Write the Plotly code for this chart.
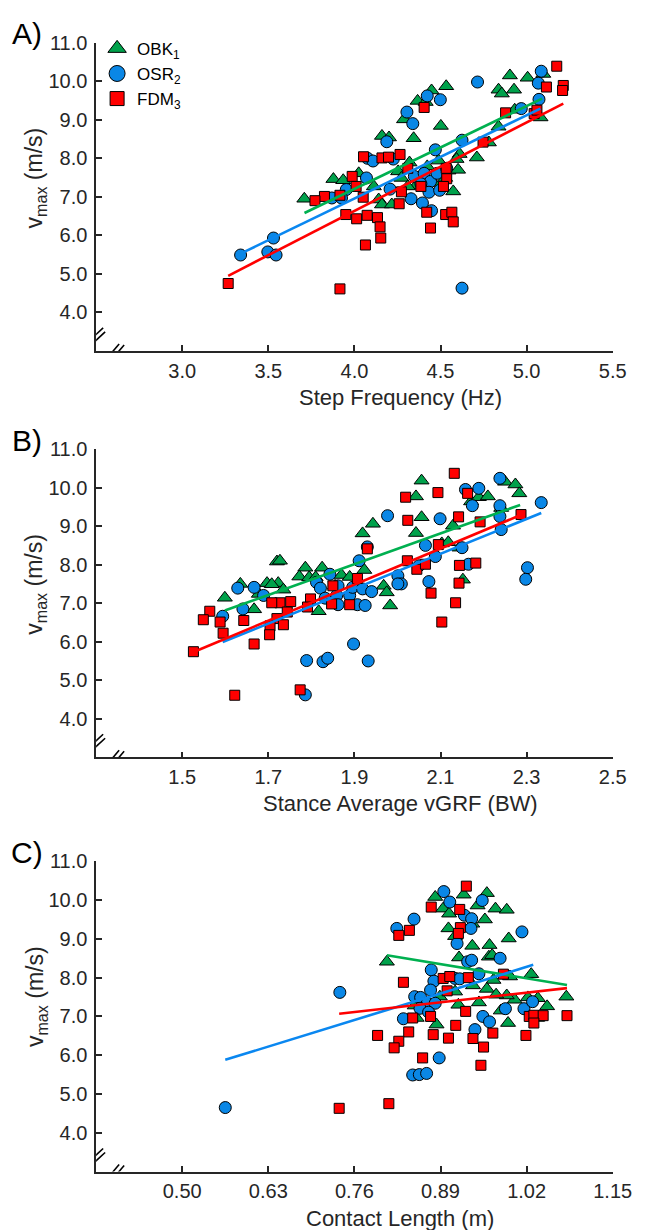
import plotly.graph_objects as go

# ---------------- data ----------------
# Panel A: Step Frequency (Hz) vs vmax (m/s)
A_OBK_x = [4.903, 5.006, 5.097, 4.533, 4.448, 4.837, 4.856, 4.927, 4.367, 4.414, 4.288, 4.502, 4.16, 4.201,
           4.344, 4.931, 5.081, 4.837, 4.781, 4.711, 4.611, 4.593, 4.32, 4.489, 4.423, 4.546, 4.602, 4.254,
           4.273, 4.025, 3.878, 3.935, 4.113, 4.358, 4.461, 4.31, 3.709, 4.141, 4.16, 4.217, 4.574, 4.527]
A_OBK_y = [10.15, 10.09, 10.19, 9.87, 9.76, 9.78, 9.68, 9.78, 9.49, 9.46, 9.01, 8.84, 8.58, 8.54,
           8.52, 9.26, 9.06, 8.82, 8.41, 8.02, 8.11, 7.98, 7.89, 7.94, 7.79, 7.68, 7.70, 7.66,
           7.49, 7.61, 7.46, 7.43, 7.27, 7.29, 7.36, 7.27, 6.95, 6.93, 6.80, 6.80, 7.14, 7.49]
A_OSR_x = [4.715, 5.085, 5.068, 5.072, 4.969, 4.423, 4.499, 4.305, 4.339, 4.188, 4.625, 4.47, 4.076, 4.108,
           4.226, 4.07, 3.953, 3.869, 3.925, 4.207, 4.348, 4.405, 4.442, 4.48, 4.536, 4.386, 4.433, 4.495,
           4.329, 4.395, 4.448, 3.53, 3.339, 3.497, 3.545, 4.625]
A_OSR_y = [9.98, 10.26, 9.95, 9.53, 9.29, 9.62, 9.52, 9.20, 8.90, 8.43, 8.47, 8.22, 8.00, 7.93,
           7.98, 7.49, 7.19, 6.97, 6.97, 7.20, 7.53, 7.61, 7.40, 7.61, 7.74, 7.34, 7.12, 7.17,
           6.95, 6.84, 6.64, 5.93, 5.49, 5.57, 5.49, 4.63]
A_FDM_x = [5.175, 5.115, 5.213, 5.209, 4.405, 4.878, 5.044, 5.06, 4.747, 4.053, 4.16, 4.198, 4.265, 3.987,
           3.826, 3.771, 3.916, 4.051, 4.01, 4.26, 4.273, 4.533, 4.536, 4.517, 4.42, 4.53, 4.566, 4.574,
           3.95, 4.013, 4.074, 4.134, 4.149, 4.153, 4.064, 4.442, 3.267, 3.916, 4.386, 4.31]
A_FDM_y = [10.39, 9.85, 9.89, 9.76, 9.32, 9.18, 9.16, 9.25, 8.42, 8.04, 8.01, 8.03, 8.10, 7.53,
           7.01, 6.90, 7.04, 6.99, 7.27, 6.82, 7.13, 7.74, 7.47, 7.27, 6.60, 6.54, 6.60, 6.35,
           6.54, 6.43, 6.52, 6.46, 6.22, 5.93, 5.75, 6.19, 4.75, 4.61, 7.27, 7.74]
A_OBK_fit_x, A_OBK_fit_y = [3.71, 5.09], [6.58, 9.55]
A_OSR_fit_x, A_OSR_fit_y = [3.36, 5.08], [5.57, 9.29]
A_FDM_fit_x, A_FDM_fit_y = [3.267, 5.213], [4.95, 9.42]

# Panel B: Stance Average vGRF (BW) vs vmax (m/s)
B_OBK_x = [2.056, 2.25, 2.274, 2.283, 2.043, 2.171, 2.189, 2.21, 2.056, 2.241, 2.129, 1.943, 1.919, 2.043,
           2.103, 2.118, 2.144, 2.152, 1.923, 1.825, 1.786, 1.772, 1.72, 1.727, 1.795, 1.81, 1.87, 1.889,
           1.968, 1.975, 1.983, 1.817, 1.855, 1.635, 1.599, 1.667, 1.678, 1.697, 1.723, 1.735, 1.708]
B_OBK_y = [10.18, 10.15, 10.08, 9.85, 9.77, 9.64, 9.75, 9.77, 9.23, 9.47, 9.01, 9.06, 8.81, 8.82,
           8.55, 8.58, 8.44, 7.61, 7.86, 7.92, 7.92, 7.69, 8.08, 8.10, 7.67, 7.67, 7.73, 7.68,
           7.45, 7.28, 6.94, 6.79, 7.45, 7.50, 7.14, 6.84, 7.24, 7.52, 7.52, 7.35, 7.49]
B_OSR_x = [2.238, 2.158, 2.189, 2.334, 2.238, 2.174, 2.238, 2.241, 1.977, 2.099, 1.93, 2.065, 2.15, 2.088,
           2.05, 2.165, 1.911, 2.001, 2.009, 2.001, 2.073, 2.302, 2.298, 1.843, 1.812, 1.821, 1.832, 1.859,
           1.862, 1.889, 1.896, 1.919, 1.94, 1.862, 1.907, 1.925, 1.629, 1.667, 1.689, 1.641, 1.594, 1.898,
           1.789, 1.827, 1.838, 1.932, 1.786]
B_OSR_y = [10.24, 9.95, 9.98, 9.61, 9.53, 9.53, 9.25, 8.91, 9.27, 9.19, 8.46, 8.50, 8.44, 8.21,
           7.97, 8.01, 8.10, 7.71, 7.50, 7.50, 7.56, 7.92, 7.62, 7.75, 7.54, 7.39, 7.13, 7.20,
           7.45, 7.20, 7.41, 7.37, 7.30, 6.96, 6.96, 6.94, 7.39, 7.41, 7.20, 6.85, 6.66, 5.94,
           5.51, 5.48, 5.57, 5.50, 4.62]
B_FDM_x = [2.132, 2.019, 2.094, 2.024, 2.142, 2.192, 2.287, 2.163, 2.095, 2.023, 2.045, 2.065, 2.144, 2.182,
           2.078, 2.143, 2.135, 2.103, 1.93, 1.907, 1.85, 1.889, 1.798, 1.752, 1.727, 1.708, 1.744, 1.72,
           1.735, 1.704, 1.703, 1.643, 1.667, 1.564, 1.549, 1.588, 1.595, 1.526, 1.622, 1.774, 1.791, 1.847]
B_FDM_y = [10.37, 9.75, 9.87, 9.15, 9.24, 9.11, 9.30, 9.85, 8.52, 8.10, 7.88, 8.01, 7.98, 8.04,
           7.26, 7.52, 7.01, 6.51, 8.41, 7.64, 7.45, 6.96, 7.11, 7.04, 7.01, 7.01, 6.77, 6.60,
           6.44, 6.41, 6.18, 6.55, 5.94, 6.79, 6.57, 6.51, 6.22, 5.74, 4.61, 4.75, 6.90, 6.98]
B_OBK_fit_x, B_OBK_fit_y = [1.599, 2.285], [6.81, 9.55]
B_OSR_fit_x, B_OSR_fit_y = [1.594, 2.334], [5.99, 9.34]
B_FDM_fit_x, B_FDM_fit_y = [1.528, 2.289], [5.74, 9.30]

# Panel C: Contact Length (m) vs vmax (m/s)
C_OBK_x = [0.882, 0.925, 0.96, 0.894, 0.903, 0.946, 0.973, 0.99, 0.957, 0.938, 0.902, 0.912, 0.993, 0.938,
           0.964, 0.918, 0.963, 0.968, 0.809, 1.027, 0.995, 0.97, 0.939, 0.96, 1.08, 1.051, 1.037, 1.022,
           1.002, 0.99, 0.974, 0.948, 0.981, 0.992, 1.036, 0.917, 0.889, 0.912, 0.854, 0.884, 0.851]
C_OBK_y = [10.08, 10.14, 10.18, 9.78, 9.65, 9.86, 9.78, 9.75, 9.50, 9.39, 9.27, 9.07, 9.01, 8.82,
           8.84, 8.52, 8.54, 8.58, 8.41, 8.09, 8.03, 7.94, 7.80, 7.71, 7.51, 7.26, 7.47, 7.49,
           7.43, 7.54, 7.56, 7.36, 7.15, 6.83, 6.96, 7.30, 7.51, 7.64, 6.96, 6.79, 7.28]
C_OSR_x = [0.895, 0.904, 0.85, 0.824, 0.926, 0.937, 0.936, 0.953, 0.915, 1.013, 0.931, 0.937, 0.98, 0.876,
           0.88, 0.912, 0.919, 0.948, 0.875, 0.851, 0.86, 0.87, 0.882, 0.859, 0.872, 0.834, 0.954, 0.964,
           0.942, 0.988, 1.016, 1.029, 0.888, 0.848, 0.858, 0.869, 0.738, 0.565]
C_OSR_y = [10.22, 9.95, 9.51, 9.27, 9.61, 9.52, 9.27, 9.99, 8.88, 9.18, 8.41, 8.45, 8.50, 8.20,
           7.91, 7.98, 7.97, 8.10, 7.68, 7.51, 7.49, 7.34, 7.34, 7.21, 7.11, 6.94, 7.00, 6.86,
           6.66, 7.20, 7.20, 7.38, 5.93, 5.49, 5.50, 5.53, 7.62, 4.65]
C_FDM_x = [0.929, 0.876, 0.919, 0.843, 0.827, 0.92, 0.917, 0.834, 0.894, 0.904, 0.932, 0.985, 0.9, 0.928,
           0.875, 0.848, 0.913, 0.795, 0.842, 0.879, 0.902, 0.939, 0.969, 0.955, 0.827, 0.82, 0.863, 0.951,
           1.019, 1.024, 1.031, 1.045, 1.031, 1.081, 0.737, 0.812]
C_FDM_y = [10.36, 9.82, 9.76, 9.22, 9.09, 9.29, 9.14, 7.88, 7.98, 8.03, 8.00, 8.09, 7.66, 7.13,
           7.00, 6.96, 6.77, 6.51, 6.60, 6.53, 6.44, 6.43, 6.57, 6.21, 6.36, 6.19, 5.93, 5.74,
           6.51, 7.00, 7.03, 7.02, 6.83, 7.02, 4.63, 4.75]
C_OBK_fit_x, C_OBK_fit_y = [0.809, 1.081], [8.58, 7.81]
C_OSR_fit_x, C_OSR_fit_y = [0.565, 1.03], [5.88, 8.33]
C_FDM_fit_x, C_FDM_fit_y = [0.737, 1.081], [7.07, 7.73]

# axes / labels
panel_labels = ["A)", "B)", "C)"]
x_titles = ["Step Frequency (Hz)", "Stance Average vGRF (BW)", "Contact Length (m)"]
x_ticks = [[3.0, 3.5, 4.0, 4.5, 5.0, 5.5],
           [1.5, 1.7, 1.9, 2.1, 2.3, 2.5],
           [0.50, 0.63, 0.76, 0.89, 1.02, 1.15]]
x_tick_text = [["3.0", "3.5", "4.0", "4.5", "5.0", "5.5"],
               ["1.5", "1.7", "1.9", "2.1", "2.3", "2.5"],
               ["0.50", "0.63", "0.76", "0.89", "1.02", "1.15"]]
x_ranges = [[2.5, 5.5], [1.3, 2.5], [0.37, 1.15]]
y_ticks = [4.0, 5.0, 6.0, 7.0, 8.0, 9.0, 10.0, 11.0]
y_tick_text = ["4.0", "5.0", "6.0", "7.0", "8.0", "9.0", "10.0", "11.0"]
y_range = [3.0, 11.0]
group_names = ["OBK<sub>1</sub>", "OSR<sub>2</sub>", "FDM<sub>3</sub>"]

# ---------------- styling ----------------
W, H = 655, 1230
FONT = "Liberation Sans, Arial, Helvetica, sans-serif"
AX = "#262626"
colors_fill = ["#00A14B", "#0A87E6", "#FF0000"]
colors_line = ["#00B050", "#0A87F0", "#FF0000"]
symbols = ["triangle-up", "circle", "square"]
sizes = [13, 12, 10]

# pixel layout (top = 11.0 tick, bottom = x axis)
x_left_px, x_right_px = 99, 631
panel_px = [(32, 343), (442, 753), (858, 1171)]


def fx(px):
    return px / W


def fy(py):
    return (H - py) / H


panels = [
    [(A_OBK_x, A_OBK_y, A_OBK_fit_x, A_OBK_fit_y),
     (A_OSR_x, A_OSR_y, A_OSR_fit_x, A_OSR_fit_y),
     (A_FDM_x, A_FDM_y, A_FDM_fit_x, A_FDM_fit_y)],
    [(B_OBK_x, B_OBK_y, B_OBK_fit_x, B_OBK_fit_y),
     (B_OSR_x, B_OSR_y, B_OSR_fit_x, B_OSR_fit_y),
     (B_FDM_x, B_FDM_y, B_FDM_fit_x, B_FDM_fit_y)],
    [(C_OBK_x, C_OBK_y, C_OBK_fit_x, C_OBK_fit_y),
     (C_OSR_x, C_OSR_y, C_OSR_fit_x, C_OSR_fit_y),
     (C_FDM_x, C_FDM_y, C_FDM_fit_x, C_FDM_fit_y)],
]

fig = go.Figure()
layout = dict(
    width=W, height=H,
    margin=dict(l=0, r=0, t=0, b=0),
    paper_bgcolor="white", plot_bgcolor="white",
    font=dict(family=FONT, color=AX),
    showlegend=True,
    legend=dict(x=fx(100), y=fy(20), xanchor="left", yanchor="top",
                font=dict(size=17, color="black", family=FONT),
                bgcolor="rgba(0,0,0,0)", tracegroupgap=0, itemwidth=30),
)
annotations = []
shapes = []

for p in range(3):
    sfx = "" if p == 0 else str(p + 1)
    xa, ya = "x" + sfx, "y" + sfx
    top, bot = panel_px[p]
    for s in range(3):
        xs, ys, fxs, fys = panels[p][s]
        fig.add_trace(go.Scatter(
            x=xs, y=ys, mode="markers", xaxis=xa, yaxis=ya, showlegend=False,
            cliponaxis=False,
            marker=dict(symbol=symbols[s], size=sizes[s], color=colors_fill[s],
                        line=dict(color="black", width=1))))
    for s in range(3):
        xs, ys, fxs, fys = panels[p][s]
        fig.add_trace(go.Scatter(
            x=fxs, y=fys, mode="lines", xaxis=xa, yaxis=ya, showlegend=False,
            line=dict(color=colors_line[s], width=2.6)))

    layout["xaxis" + sfx] = dict(
        domain=[fx(x_left_px), fx(x_right_px)], anchor=ya, range=x_ranges[p],
        showgrid=False, zeroline=False, showline=True, linecolor=AX, linewidth=1.5,
        ticks="inside", ticklen=6, tickwidth=1.5, tickcolor=AX,
        tickvals=x_ticks[p], ticktext=x_tick_text[p],
        tickfont=dict(size=20, color=AX, family=FONT), ticklabelstandoff=1)
    layout["yaxis" + sfx] = dict(
        domain=[fy(bot), fy(top)], anchor=xa, range=y_range,
        showgrid=False, zeroline=False, showline=True, linecolor=AX, linewidth=1.5,
        ticks="inside", ticklen=6, tickwidth=1.5, tickcolor=AX,
        tickvals=y_ticks, ticktext=y_tick_text,
        tickfont=dict(size=20, color=AX, family=FONT), ticklabelstandoff=3)

    annotations.append(dict(text=panel_labels[p], x=fx(28), y=fy(top - 9), xref="paper", yref="paper",
                            xanchor="center", yanchor="middle", showarrow=False,
                            font=dict(size=30, color="black", family=FONT)))
    annotations.append(dict(text="v<sub>max</sub> (m/s)", x=fx(37), y=fy(top + 136), xref="paper",
                            yref="paper", xanchor="center", yanchor="middle", textangle=-90,
                            showarrow=False, font=dict(size=23, color=AX, family=FONT)))
    annotations.append(dict(text=x_titles[p], x=fx(412), y=fy(bot + 47), xref="paper",
                            yref="paper", xanchor="center", yanchor="middle", showarrow=False,
                            font=dict(size=22, color=AX, family=FONT)))
    xmin = x_ranges[p][0]
    for (a0, b0, a1, b1) in [(-6, 11, 7, 23), (-4, 7, 9, 19), (12, -6, 23, 7), (17, -7, 28, 6)]:
        shapes.append(dict(type="line", xref=xa, yref=ya, xsizemode="pixel", ysizemode="pixel",
                           xanchor=xmin, yanchor=y_range[0], x0=a0, y0=b0, x1=a1, y1=b1,
                           line=dict(color="black", width=1.6)))

for s in range(3):
    fig.add_trace(go.Scatter(x=[None], y=[None], mode="markers", name=group_names[s],
                             xaxis="x", yaxis="y",
                             marker=dict(symbol=symbols[s], size=[18, 16, 14][s], color=colors_fill[s],
                                         line=dict(color="black", width=1))))

layout["annotations"] = annotations
layout["shapes"] = shapes
fig.update_layout(**layout)
# remove the default page margin so the 655x1230 figure fills the window exactly
fig.write_html("out.html", config={"displayModeBar": False},
               post_script="document.documentElement.style.margin='0';document.body.style.margin='0';"
                           "document.body.style.overflow='hidden';")
